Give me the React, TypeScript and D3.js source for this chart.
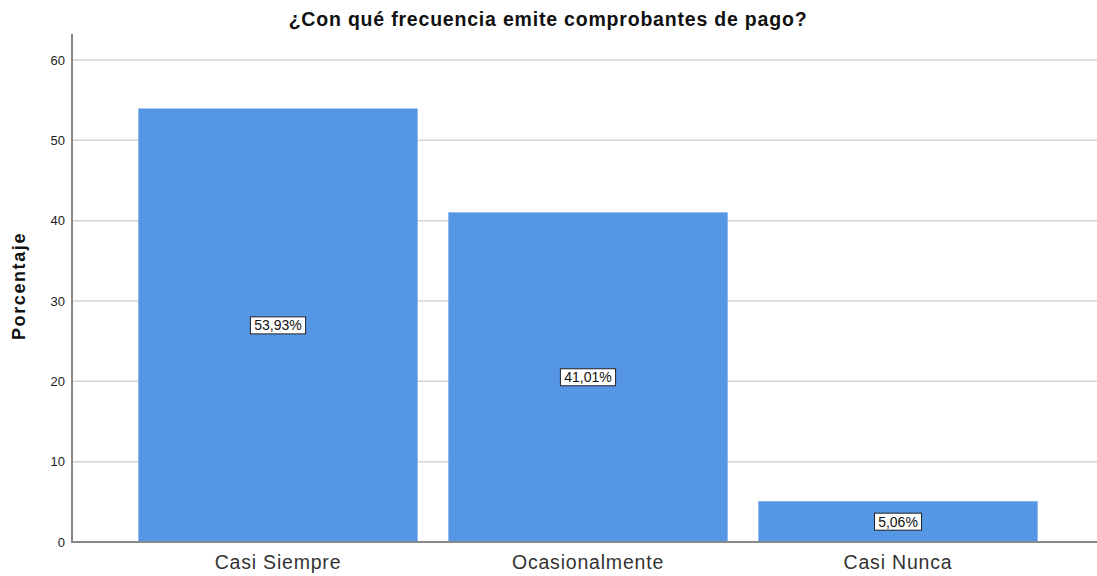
import React from "react";
import * as d3 from "d3";

const categories = ["Casi Siempre", "Ocasionalmente", "Casi Nunca"];
const values = [53.93, 41.01, 5.06];
const valueLabels = ["53,93%", "41,01%", "5,06%"];
const yTicks = [0, 10, 20, 30, 40, 50, 60];
const title = "¿Con qué frecuencia emite comprobantes de pago?";
const yTitle = "Porcentaje";

const W = 1097;
const H = 576;
const FONT = "Liberation Sans, Arial, sans-serif";

export default function App() {
  const x = d3
    .scaleBand<string>()
    .domain(categories)
    .range([73, 1103])
    .paddingInner(0.1)
    .paddingOuter(0.2113);
  const y = d3.scaleLinear().domain([0, 60]).range([542, 60]);

  return (
    <svg
      width={W}
      height={H}
      style={{ position: "absolute", left: 0, top: 0, background: "#fff" }}
      fontFamily={FONT}
    >
      <text x={548} y={26} textAnchor="middle" fontSize={19.5} fontWeight="bold" letterSpacing={0.8} fill="#111">
        {title}
      </text>
      {yTicks.map((t) => (
        <g key={t}>
          {t > 0 && (
            <line x1={73} x2={W} y1={y(t)} y2={y(t)} stroke="#d4d4d4" strokeWidth={1.5} />
          )}
          <text x={65} y={y(t) + 4.5} textAnchor="end" fontSize={13} fill="#222">
            {t}
          </text>
        </g>
      ))}
      {categories.map((c, i) => (
        <rect
          key={c}
          x={x(c)}
          y={y(values[i])}
          width={x.bandwidth()}
          height={y(0) - y(values[i])}
          fill="#5596e5"
          stroke="#7aaeea"
          strokeWidth={0.5}
        />
      ))}
      <line x1={73} x2={W} y1={542} y2={542} stroke="#888" strokeWidth={2} />
      <line x1={72} x2={72} y1={34} y2={543} stroke="#888" strokeWidth={2} />
      {categories.map((c, i) => {
        const cx = (x(c) as number) + x.bandwidth() / 2;
        const cy = y(values[i] / 2);
        const bw = valueLabels[i].length * 8.2 + 6;
        return (
          <g key={"l" + c}>
            <rect x={cx - bw / 2} y={cy - 8.5} width={bw} height={17} fill="#fff" stroke="#222" strokeWidth={1} />
            <text x={cx} y={cy + 5} textAnchor="middle" fontSize={14} fill="#111">
              {valueLabels[i]}
            </text>
          </g>
        );
      })}
      {categories.map((c) => (
        <text
          key={"x" + c}
          x={(x(c) as number) + x.bandwidth() / 2}
          y={569}
          textAnchor="middle"
          fontSize={19.5}
          letterSpacing={0.8}
          fill="#333"
        >
          {c}
        </text>
      ))}
      <text
        transform={`translate(25,286) rotate(-90)`}
        textAnchor="middle"
        fontSize={18}
        fontWeight="bold"
        letterSpacing={1.6}
        fill="#111"
      >
        {yTitle}
      </text>
    </svg>
  );
}
